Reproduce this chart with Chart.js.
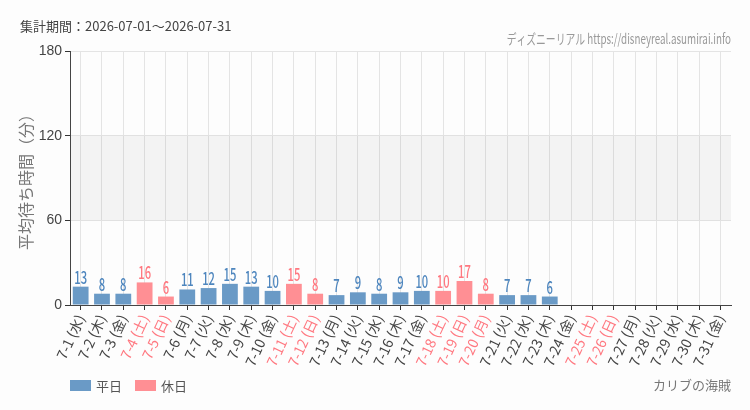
<!DOCTYPE html>
<html>
<head>
<meta charset="utf-8">
<script src="https://cdn.jsdelivr.net/npm/chart.js@4"></script>
<style>
  html, body { margin: 0; padding: 0; background: #fdfdfd; }
  #wrap { width: 750px; height: 410px; position: relative; }
</style>
</head>
<body>
<div id="wrap"><canvas id="waitChart" width="750" height="410"></canvas></div>
<script>
// categories (July 2026)
const dayLabels = ['7-1 (水)', '7-2 (木)', '7-3 (金)', '7-4 (土)', '7-5 (日)', '7-6 (月)', '7-7 (火)', '7-8 (水)',
  '7-9 (木)', '7-10 (金)', '7-11 (土)', '7-12 (日)', '7-13 (月)', '7-14 (火)', '7-15 (水)', '7-16 (木)',
  '7-17 (金)', '7-18 (土)', '7-19 (日)', '7-20 (月)', '7-21 (火)', '7-22 (水)', '7-23 (木)', '7-24 (金)',
  '7-25 (土)', '7-26 (日)', '7-27 (月)', '7-28 (火)', '7-29 (水)', '7-30 (木)', '7-31 (金)'];
// 1 = holiday (土日祝)
const holidayFlags = [0, 0, 0, 1, 1, 0, 0, 0, 0, 0, 1, 1, 0, 0, 0, 0, 0, 1, 1, 1, 0, 0, 0, 0, 1, 1, 0, 0, 0, 0, 0];
// average wait (minutes)
const waitMinutes = [13, 8, 8, 16, 6, 11, 12, 15, 13, 10, 15, 8, 7, 9, 8, 9, 10, 10, 17, 8, 7, 7, 6,
  null, null, null, null, null, null, null, null];
const yTicks = [0, 60, 120, 180];
const seriesNames = ['平日', '休日'];

const periodText = '集計期間：2026-07-01～2026-07-31';
const siteText = 'ディズニーリアル https://disneyreal.asumirai.info';
const attractionText = 'カリブの海賊';

const blueBar = 'rgb(106, 154, 198)';
const pinkBar = 'rgb(255, 143, 148)';
const blueText = 'rgb(78, 134, 190)';
const pinkText = 'rgb(255, 120, 128)';
const jpFont = "'Noto Sans CJK JP', 'Noto Sans', sans-serif";

const weekdayData = waitMinutes.map((v, i) => holidayFlags[i] ? null : v);
const holidayData = waitMinutes.map((v, i) => holidayFlags[i] ? v : null);

// squeeze text horizontally to fake a condensed face
function narrowText(ctx, text, x, y, sx) {
  ctx.save();
  ctx.translate(x, y);
  ctx.scale(sx, 1);
  ctx.fillText(text, 0, 0);
  ctx.restore();
}

const decorPlugin = {
  id: 'decor',
  beforeDatasetsDraw(chart) {
    // shaded 60-120 band
    const { ctx, chartArea } = chart;
    const y = chart.scales.y;
    const top = y.getPixelForValue(120);
    const bottom = y.getPixelForValue(60);
    ctx.save();
    ctx.fillStyle = 'rgba(0, 0, 0, 0.04)';
    ctx.fillRect(chartArea.left + 1, top, chartArea.right - chartArea.left - 1, bottom - top);
    ctx.restore();
  },
  afterDatasetsDraw(chart) {
    const ctx = chart.ctx;
    ctx.save();
    ctx.font = '500 17px ' + jpFont;
    ctx.textAlign = 'center';
    ctx.textBaseline = 'alphabetic';
    chart.data.datasets.forEach((ds, di) => {
      const meta = chart.getDatasetMeta(di);
      ctx.fillStyle = di === 0 ? blueText : pinkText;
      meta.data.forEach((bar, i) => {
        const v = ds.data[i];
        if (v === null || v === undefined) return;
        narrowText(ctx, String(v), bar.x, bar.y - 3, 0.66);
      });
    });
    ctx.restore();
  },
  afterDraw(chart) {
    const ctx = chart.ctx;
    const area = chart.chartArea;
    ctx.save();
    // header texts
    ctx.textBaseline = 'middle';
    ctx.font = '13px ' + jpFont;
    ctx.fillStyle = '#444';
    ctx.textAlign = 'left';
    ctx.fillText(periodText, 20, 26);
    ctx.font = '14px ' + jpFont;
    ctx.fillStyle = '#999';
    ctx.textAlign = 'right';
    narrowText(ctx, siteText, area.right, 39, 0.7);
    // attraction name
    ctx.font = '13px ' + jpFont;
    ctx.fillStyle = '#777';
    ctx.fillText(attractionText, area.right, 385);
    // legend
    ctx.textAlign = 'left';
    let x = 70;
    chart.data.datasets.forEach((ds) => {
      ctx.fillStyle = ds.backgroundColor;
      ctx.fillRect(x, 380, 21, 11);
      ctx.fillStyle = '#555';
      ctx.font = '13px ' + jpFont;
      ctx.fillText(ds.label, x + 26, 386);
      x += 65;
    });
    ctx.restore();
  }
};

new Chart(document.getElementById('waitChart').getContext('2d'), {
  type: 'bar',
  data: {
    labels: dayLabels,
    datasets: [
      { label: seriesNames[0], data: weekdayData, backgroundColor: blueBar },
      { label: seriesNames[1], data: holidayData, backgroundColor: pinkBar }
    ]
  },
  options: {
    responsive: false,
    animation: false,
    layout: { padding: { top: 51, right: 19, bottom: 35, left: 0 } },
    datasets: { bar: { categoryPercentage: 0.74, barPercentage: 1 } },
    plugins: {
      legend: { display: false },
      tooltip: { enabled: false }
    },
    scales: {
      x: {
        stacked: true,
        grid: { offset: false, color: '#e4e4e4', tickColor: '#333', tickLength: 5 },
        border: { color: '#444' },
        ticks: {
          minRotation: 65,
          maxRotation: 65,
          autoSkip: false,
          padding: 2,
          font: { size: 14, family: jpFont },
          color: (c) => holidayFlags[c.index] ? pinkText : '#444'
        },
        afterFit(scale) { scale.height = 70; }
      },
      y: {
        stacked: true,
        min: 0,
        max: 180,
        afterBuildTicks(scale) { scale.ticks = yTicks.map(v => ({ value: v })); },
        grid: { color: '#e4e4e4', tickColor: '#333', tickLength: 5 },
        border: { color: '#444' },
        ticks: {
          padding: 3,
          font: { size: 14, family: "'Liberation Sans', sans-serif" },
          color: '#444'
        },
        title: {
          display: true,
          text: '平均待ち時間（分）',
          color: '#777',
          font: { size: 16, family: jpFont },
          padding: { top: 16, bottom: 0 }
        },
        afterFit(scale) { scale.width = 70; }
      }
    }
  },
  plugins: [decorPlugin]
});
</script>
</body>
</html>
